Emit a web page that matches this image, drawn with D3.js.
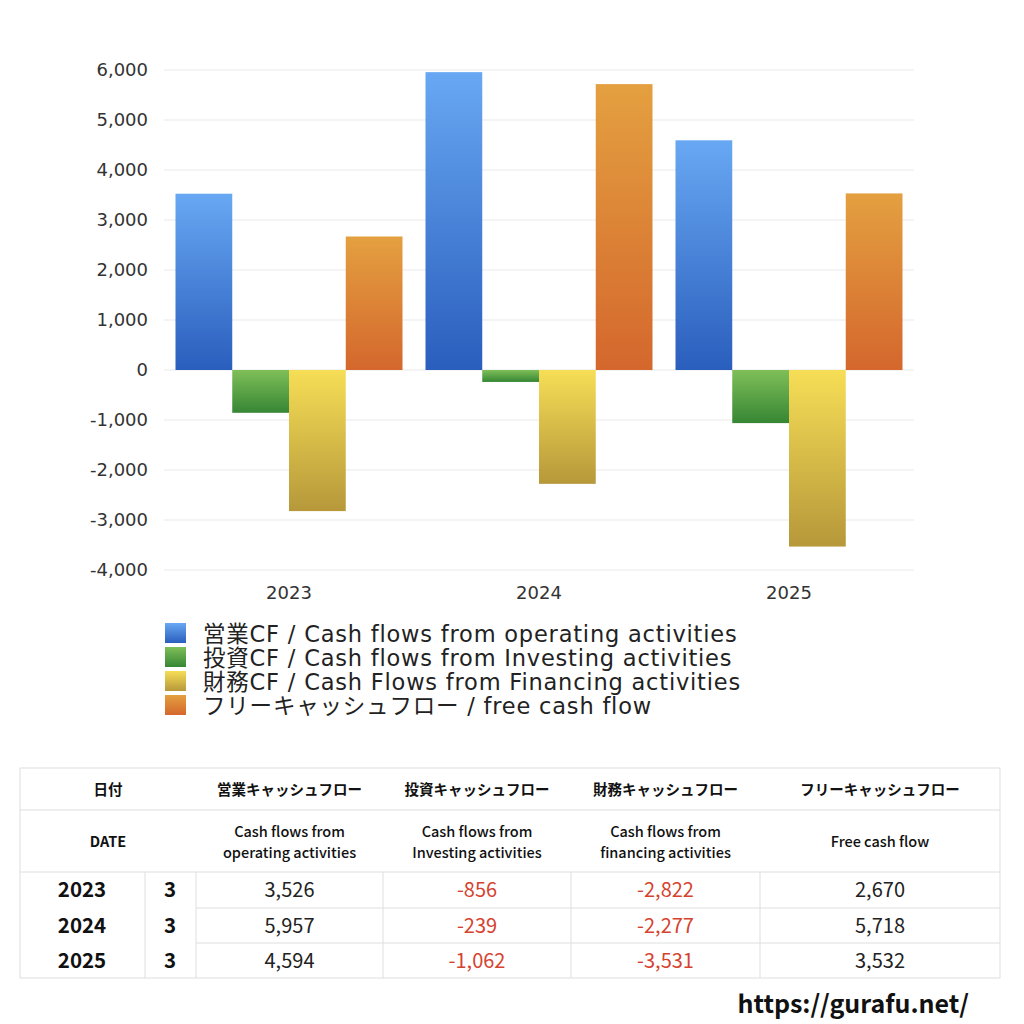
<!DOCTYPE html>
<html>
<head>
<meta charset="utf-8">
<script src="https://cdn.jsdelivr.net/npm/d3@7"></script>
<style>
  body { margin: 0; background: #fff; }
  svg { display: block; }
</style>
</head>
<body>
<div id="chart"></div>
<script>
const years = ["2023", "2024", "2025"];
const months = ["3", "3", "3"];
const operating = [3526, 5957, 4594];
const investing = [-856, -239, -1062];
const financing = [-2822, -2277, -3531];
const freeCF = [2670, 5718, 3532];
const seriesKeys = ["operating", "investing", "financing", "free"];
const legendLabels = [
    "営業CF / Cash flows from operating activities",
    "投資CF / Cash flows from Investing activities",
    "財務CF / Cash Flows from Financing activities",
    "フリーキャッシュフロー / free cash flow"
];
const yTicks = [-4000, -3000, -2000, -1000, 0, 1000, 2000, 3000, 4000, 5000, 6000];
const headJa = ["日付", "営業キャッシュフロー", "投資キャッシュフロー", "財務キャッシュフロー", "フリーキャッシュフロー"];
const headEn = [["DATE"], ["Cash flows from", "operating activities"], ["Cash flows from", "Investing activities"],
    ["Cash flows from", "financing activities"], ["Free cash flow"]];

const gradients = {
    operating: ["#68a8f3", "#2a5ebd"],
    investing: ["#7fbf58", "#368634"],
    financing: ["#f6de56", "#b6983a"],
    free: ["#e4a040", "#d4672d"]
};

const width = 1024, height = 1024;
const jp = "'Noto Sans CJK JP', 'Noto Sans', sans-serif";
const wide = "'DejaVu Sans', 'Noto Sans CJK JP', sans-serif";

// hyphen-minus like the original, not U+2212
const fmt = d3.formatLocale({decimal: ".", thousands: ",", grouping: [3], currency: ["", ""], minus: "-"}).format(",");

const svg = d3.select("#chart")
    .append("svg")
    .attr("width", width)
    .attr("height", height);

const defs = svg.append("defs");
seriesKeys.forEach(function (k) {
    const g = defs.append("linearGradient")
        .attr("id", "grad-" + k)
        .attr("x1", 0).attr("y1", 0).attr("x2", 0).attr("y2", 1);
    g.append("stop").attr("offset", "0%").attr("stop-color", gradients[k][0]);
    g.append("stop").attr("offset", "100%").attr("stop-color", gradients[k][1]);
});

const rows = years.map(function (y, i) {
    return {year: y, month: months[i], operating: operating[i], investing: investing[i], financing: financing[i], free: freeCF[i]};
});

// chart
const plot = {left: 164, right: 914, top: 70, bottom: 570};

const x0 = d3.scaleBand()
    .domain(years)
    .range([plot.left, plot.right])
    .padding(0);

const x1 = d3.scaleBand()
    .domain(seriesKeys)
    .range([11.5, x0.bandwidth() - 11.5])
    .padding(0);

const y = d3.scaleLinear()
    .domain([-4000, 6000])
    .range([plot.bottom, plot.top]);

svg.append("g")
    .selectAll("line")
    .data(yTicks)
    .join("line")
    .attr("x1", plot.left)
    .attr("x2", plot.right)
    .attr("y1", d => y(d))
    .attr("y2", d => y(d))
    .attr("stroke", "#e9e9e9")
    .attr("stroke-width", 1);

const yAxis = svg.append("g")
    .attr("transform", `translate(${plot.left - 16},0)`)
    .call(d3.axisLeft(y).tickValues(yTicks).tickSize(0).tickPadding(0).tickFormat(fmt));
yAxis.select(".domain").remove();
yAxis.selectAll("text")
    .attr("font-family", wide)
    .attr("font-size", 18)
    .attr("fill", "#333");

const xAxis = svg.append("g")
    .attr("transform", `translate(0,${plot.bottom + 16})`)
    .call(d3.axisBottom(x0).tickSize(0).tickPadding(0));
xAxis.select(".domain").remove();
xAxis.selectAll("text")
    .attr("font-family", wide)
    .attr("font-size", 18)
    .attr("fill", "#333");

svg.append("g")
    .selectAll("g")
    .data(rows)
    .join("g")
    .attr("transform", d => `translate(${x0(d.year)},0)`)
    .selectAll("rect")
    .data(d => seriesKeys.map(k => ({key: k, value: d[k]})))
    .join("rect")
    .attr("x", d => x1(d.key))
    .attr("width", x1.bandwidth())
    .attr("y", d => y(Math.max(0, d.value)))
    .attr("height", d => Math.abs(y(d.value) - y(0)))
    .attr("fill", d => `url(#grad-${d.key})`);

// legend
const legend = svg.append("g")
    .attr("transform", "translate(165,623)");
const legendItem = legend.selectAll("g")
    .data(seriesKeys)
    .join("g")
    .attr("transform", (d, i) => `translate(0,${i * 24})`);
legendItem.append("rect")
    .attr("width", 21)
    .attr("height", 20)
    .attr("fill", d => `url(#grad-${d})`);
legendItem.append("text")
    .attr("x", 38)
    .attr("y", 11)
    .attr("dy", "0.36em")
    .attr("font-family", wide)
    .attr("font-size", 22.5)
    .attr("letter-spacing", 0.8)
    .attr("fill", "#222")
    .text((d, i) => legendLabels[i]);

// table
const tbl = {left: 20, right: 1000, top: 768};
const colEdges = [20, 145, 196, 383, 571, 760, 1000];
const dataRowEdges = [872, 908, 943, 978];
const line = "#dedede";

const table = svg.append("g");

table.append("rect")
    .attr("x", tbl.left)
    .attr("y", tbl.top)
    .attr("width", tbl.right - tbl.left)
    .attr("height", dataRowEdges[3] - tbl.top)
    .attr("fill", "none")
    .attr("stroke", line);

[810, 872].forEach(function (yy) {
    table.append("line")
        .attr("x1", tbl.left).attr("x2", tbl.right)
        .attr("y1", yy).attr("y2", yy)
        .attr("stroke", line);
});
[908, 943].forEach(function (yy) {
    table.append("line")
        .attr("x1", colEdges[2]).attr("x2", tbl.right)
        .attr("y1", yy).attr("y2", yy)
        .attr("stroke", line);
});
colEdges.slice(1, 6).forEach(function (xx) {
    table.append("line")
        .attr("x1", xx).attr("x2", xx)
        .attr("y1", 872).attr("y2", 978)
        .attr("stroke", line);
});

// header centers: date spans first two columns
const headCenters = [(colEdges[0] + colEdges[2]) / 2];
for (let c = 2; c < 6; c++) headCenters.push((colEdges[c] + colEdges[c + 1]) / 2);

table.selectAll(".hja")
    .data(headJa)
    .join("text")
    .attr("class", "hja")
    .attr("x", (d, i) => headCenters[i])
    .attr("y", 790)
    .attr("dy", "0.36em")
    .attr("text-anchor", "middle")
    .attr("font-family", jp)
    .attr("font-size", 14.5)
    .attr("font-weight", "bold")
    .attr("fill", "#111")
    .text(d => d);

headEn.forEach(function (lines, i) {
    lines.forEach(function (t, j) {
        table.append("text")
            .attr("x", headCenters[i])
            .attr("y", 842 + (j - (lines.length - 1) / 2) * 21)
            .attr("dy", "0.36em")
            .attr("text-anchor", "middle")
            .attr("font-family", jp)
            .attr("font-size", 14.5)
            .attr("font-weight", i === 0 ? "bold" : 500)
            .attr("fill", "#111")
            .text(t);
    });
});

rows.forEach(function (r, i) {
    const cy = (dataRowEdges[i] + dataRowEdges[i + 1]) / 2;
    table.append("text")
        .attr("x", 82).attr("y", cy).attr("dy", "0.36em")
        .attr("text-anchor", "middle")
        .attr("font-family", jp).attr("font-size", 20.5).attr("font-weight", "bold")
        .attr("fill", "#111")
        .text(r.year);
    table.append("text")
        .attr("x", 170).attr("y", cy).attr("dy", "0.36em")
        .attr("text-anchor", "middle")
        .attr("font-family", jp).attr("font-size", 20.5).attr("font-weight", "bold")
        .attr("fill", "#111")
        .text(r.month);
    seriesKeys.forEach(function (k, c) {
        table.append("text")
            .attr("x", (colEdges[c + 2] + colEdges[c + 3]) / 2)
            .attr("y", cy).attr("dy", "0.36em")
            .attr("text-anchor", "middle")
            .attr("font-family", jp).attr("font-size", 20)
            .attr("fill", r[k] < 0 ? "#d5432f" : "#222")
            .text(fmt(r[k]));
    });
});

svg.append("text")
    .attr("x", 969)
    .attr("y", 1013)
    .attr("text-anchor", "end")
    .attr("font-family", jp)
    .attr("font-size", 25)
    .attr("font-weight", "bold")
    .attr("fill", "#111")
    .text("https://gurafu.net/");
</script>
</body>
</html>
